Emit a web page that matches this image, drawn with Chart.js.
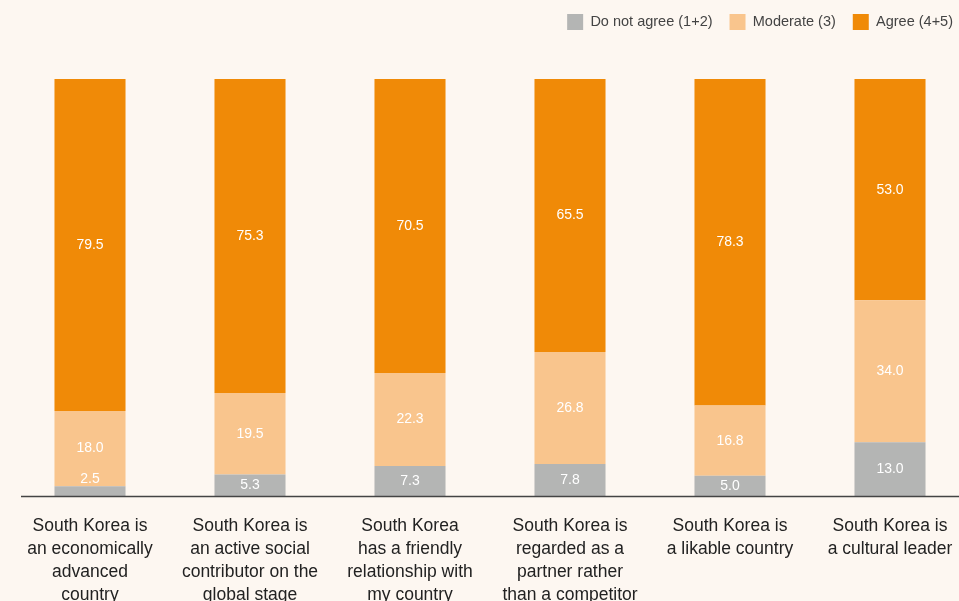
<!DOCTYPE html>
<html>
<head>
<meta charset="utf-8">
<script src="https://cdn.jsdelivr.net/npm/chart.js@4.4.1/dist/chart.umd.min.js"></script>
<style>
  html, body { margin: 0; padding: 0; background: #fdf7f1; overflow: hidden; }
  #wrap { position: relative; width: 959px; height: 601px; overflow: hidden; }
  #box { position: absolute; left: 0; top: -3px; width: 970px; height: 620px; }
</style>
</head>
<body>
<div id="wrap"><div id="box"><canvas id="perception"></canvas></div></div>
<script>
const statements = [
  ['South Korea is', 'an economically', 'advanced', 'country'],
  ['South Korea is', 'an active social', 'contributor on the', 'global stage'],
  ['South Korea', 'has a friendly', 'relationship with', 'my country'],
  ['South Korea is', 'regarded as a', 'partner rather', 'than a competitor'],
  ['South Korea is', 'a likable country'],
  ['South Korea is', 'a cultural leader']
];
const disagree = [2.5, 5.3, 7.3, 7.8, 5.0, 13.0];
const moderate = [18.0, 19.5, 22.3, 26.8, 16.8, 34.0];
const agree = [79.5, 75.3, 70.5, 65.5, 78.3, 53.0];

const FONT = '"Liberation Sans", Arial, sans-serif';

// value text centred in each segment, lifted above the bar when it is too thin
const segmentLabels = {
  id: 'segmentLabels',
  afterDatasetsDraw(chart) {
    const ctx = chart.ctx;
    ctx.save();
    ctx.font = '14px ' + FONT;
    ctx.fillStyle = '#ffffff';
    ctx.textAlign = 'center';
    ctx.textBaseline = 'middle';
    chart.data.datasets.forEach((ds, i) => {
      chart.getDatasetMeta(i).data.forEach((bar, j) => {
        const top = Math.min(bar.y, bar.base);
        const bottom = Math.max(bar.y, bar.base);
        let y = (top + bottom) / 2;
        if (bottom - top < 16) y = bottom - 17;
        ctx.fillText(ds.data[j].toFixed(1), bar.x, y);
      });
    });
    ctx.restore();
  }
};

// extra room between the legend and the bars
const legendGap = {
  id: 'legendGap',
  beforeInit(chart) {
    const fit = chart.legend.fit;
    chart.legend.fit = function () {
      fit.bind(chart.legend)();
      this.height += 39;
    };
  }
};

// baseline drawn a little in from the left edge
const baseline = {
  id: 'baseline',
  afterDatasetsDraw(chart) {
    const { ctx, chartArea } = chart;
    ctx.save();
    ctx.strokeStyle = '#444';
    ctx.lineWidth = 1.5;
    ctx.beginPath();
    ctx.moveTo(chartArea.left + 11, chartArea.bottom);
    ctx.lineTo(chartArea.right, chartArea.bottom);
    ctx.stroke();
    ctx.restore();
  }
};

new Chart(document.getElementById('perception'), {
  type: 'bar',
  data: {
    labels: statements,
    datasets: [
      { label: 'Do not agree (1+2)', data: disagree, backgroundColor: '#b4b5b4' },
      { label: 'Moderate (3)', data: moderate, backgroundColor: '#f9c58d' },
      { label: 'Agree (4+5)', data: agree, backgroundColor: '#f08a07' }
    ]
  },
  options: {
    responsive: true,
    maintainAspectRatio: false,
    animation: false,
    layout: { padding: { left: 10, right: 0, top: 0, bottom: 0 } },
    datasets: { bar: { categoryPercentage: 0.444, barPercentage: 1 } },
    plugins: {
      tooltip: { enabled: false },
      legend: {
        position: 'top',
        align: 'end',
        labels: {
          boxWidth: 16,
          boxHeight: 16,
          padding: 17,
          color: '#444',
          font: { family: FONT, size: 14.5 }
        }
      }
    },
    scales: {
      x: {
        stacked: true,
        grid: { display: false },
        border: { display: false },
        ticks: {
          color: '#222',
          padding: 10,
          maxRotation: 0,
          autoSkip: false,
          font: { family: FONT, size: 17.5, lineHeight: 1.32 }
        }
      },
      y: {
        stacked: true,
        display: false,
        min: 0,
        max: 100
      }
    }
  },
  plugins: [segmentLabels, legendGap, baseline]
});
</script>
</body>
</html>
